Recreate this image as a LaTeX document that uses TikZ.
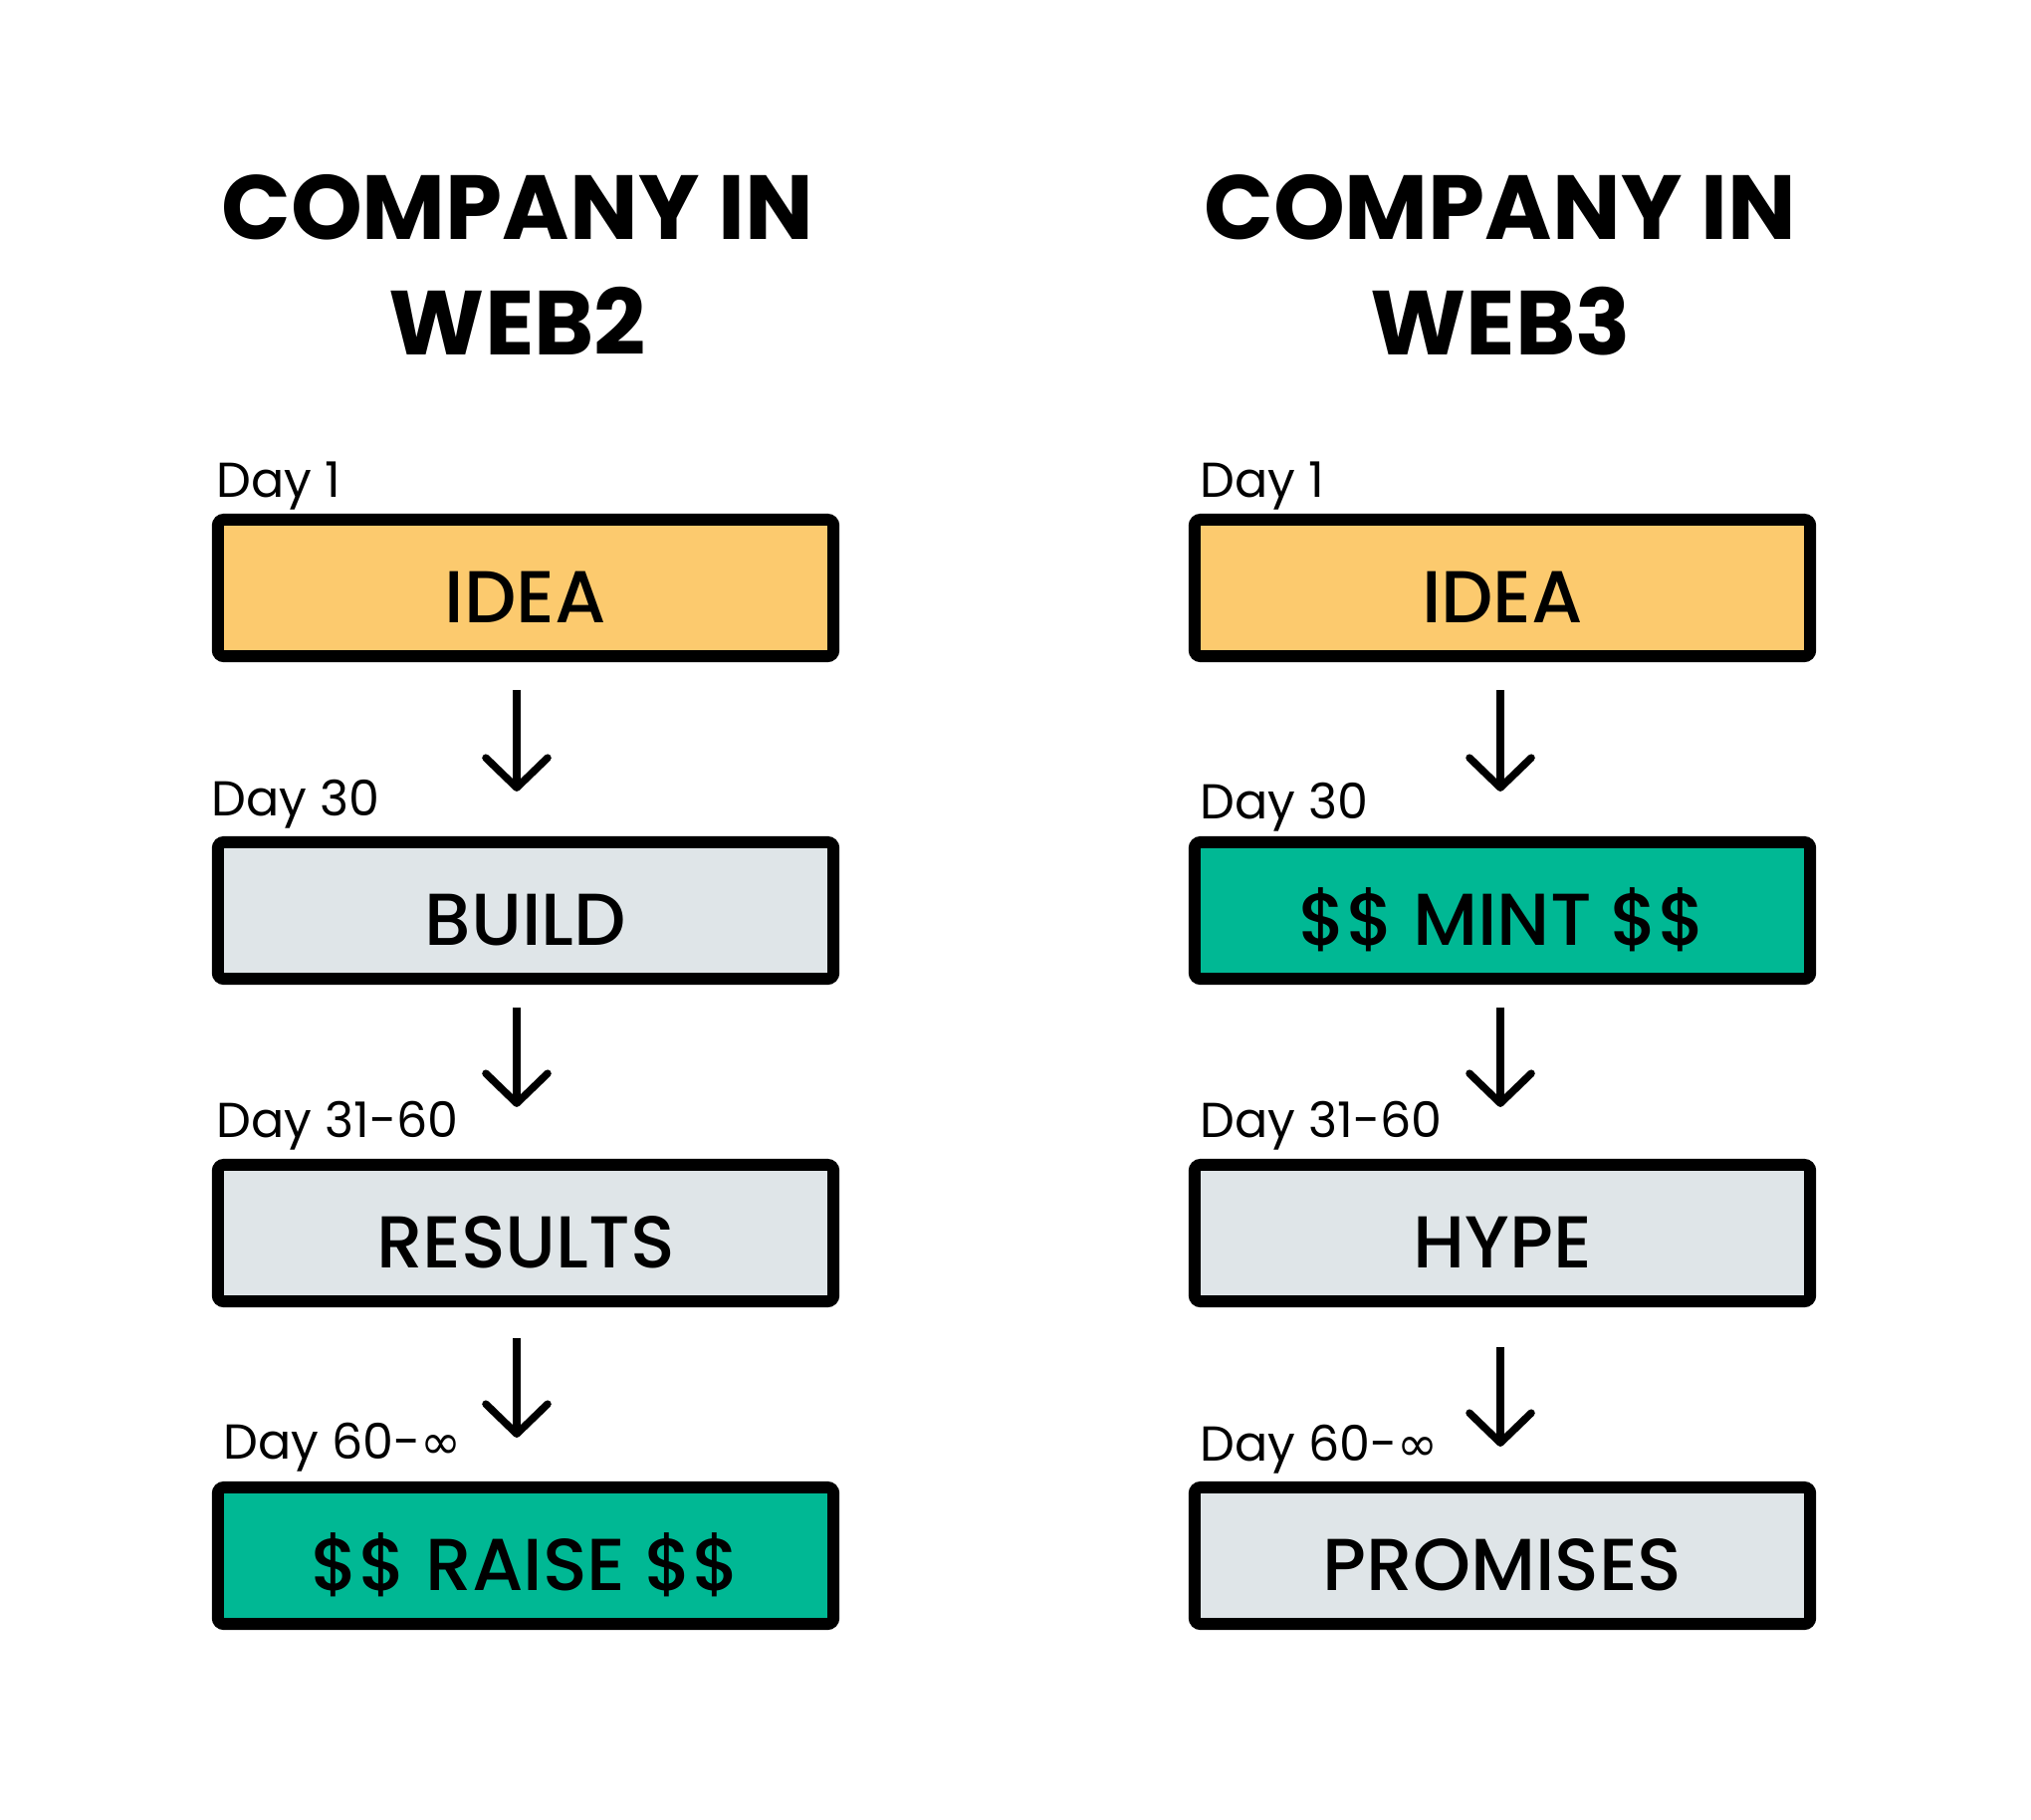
\documentclass[tikz,border=0pt]{standalone}
\usepackage{fontspec}
\setmainfont{Poppins}
\newfontfamily\boxfont{Poppins Medium}
\newfontfamily\symfont{DejaVu Sans}
\usetikzlibrary{arrows.meta,positioning}
\definecolor{ideaorange}{HTML}{FCCA6E}
\definecolor{boxgray}{HTML}{DFE5E8}
\definecolor{mintgreen}{HTML}{00B894}

\begin{document}
\begin{tikzpicture}[x=0.01cm,y=-0.01cm,
  bx/.style={draw=black, line width=0.12cm, rounded corners=0.6mm, minimum width=6.18cm,
    minimum height=1.37cm, inner sep=0pt, text height=0.7cm, text depth=0pt,
    font=\boxfont\fontsize{21}{21}\selectfont},
  ttl/.style={align=center, font=\fontsize{26}{33}\selectfont\bfseries},
  day/.style={anchor=base west, inner sep=0pt, font=\fontsize{14}{14}\selectfont},
  a/.style={-{Straight Barb[length=3mm,width=6.2mm,round]}, line width=0.075cm}]
\fill[white] (0,0) rectangle (2040,1827);
\useasboundingbox (0,0) rectangle (2040,1827);
% titles
\node[ttl] (t2) at (520,266) {COMPANY IN\\WEB2};
\node[ttl] (t3) at (1507,266) {COMPANY IN\\WEB3};
% web2 column
\foreach \i/\lx/\ly/\lab/\txt/\col in {0/217/499/Day 1/IDEA/ideaorange,
    1/212/819/Day 30/BUILD/boxgray,
    2/217/1142/Day 31-60/RESULTS/boxgray,
    3/224/1465/{Day 60-{\symfont ∞}}/\$\$ RAISE \$\$/mintgreen}{
  \node[bx, fill=\col] (l\i) at (528,590.5+324*\i) {\txt};
  \node[day] (ld\i) at (\lx,\ly) {\lab};
}
% web3 column
\foreach \i/\lx/\ly/\lab/\txt/\col in {0/1205/499/Day 1/IDEA/ideaorange,
    1/1205/822/Day 30/\$\$ MINT \$\$/mintgreen,
    2/1205/1142/Day 31-60/HYPE/boxgray,
    3/1205/1467/{Day 60-{\symfont ∞}}/PROMISES/boxgray}{
  \node[bx, fill=\col] (r\i) at (1509,590.5+324*\i) {\txt};
  \node[day] (rd\i) at (\lx,\ly) {\lab};
}
% arrows
\foreach \j/\k/\s/\e in {0/1/0.28/0.45, 1/2/0.23/0.52, 2/3/0.31/0.44}{
  \draw[a, shorten <=\s cm, shorten >=\e cm] ([xshift=-0.09cm]l\j.south) -- ([xshift=-0.09cm]l\k.north);
}
\foreach \j/\k/\s/\e in {0/1/0.28/0.45, 1/2/0.23/0.52, 2/3/0.40/0.35}{
  \draw[a, shorten <=\s cm, shorten >=\e cm] ([xshift=-0.02cm]r\j.south) -- ([xshift=-0.02cm]r\k.north);
}
\end{tikzpicture}
\end{document}
